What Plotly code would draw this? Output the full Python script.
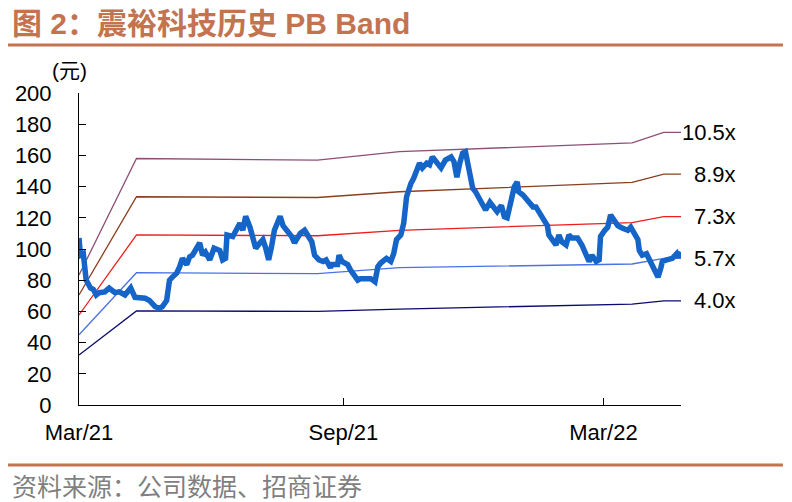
import plotly.graph_objects as go

# price (yuan)
price_dates = [
    '2021-03-18', '2021-03-19', '2021-03-21', '2021-03-23', '2021-03-26', '2021-03-28', '2021-03-30',
    '2021-04-01', '2021-04-05', '2021-04-08', '2021-04-12', '2021-04-15', '2021-04-19', '2021-04-23',
    '2021-04-26', '2021-04-29', '2021-05-03', '2021-05-06', '2021-05-10', '2021-05-13', '2021-05-15',
    '2021-05-18', '2021-05-20', '2021-05-22', '2021-05-25', '2021-05-27', '2021-05-29', '2021-06-01',
    '2021-06-03', '2021-06-05', '2021-06-07', '2021-06-10', '2021-06-12', '2021-06-14', '2021-06-17',
    '2021-06-20', '2021-06-24', '2021-06-26', '2021-06-28', '2021-06-29', '2021-07-03', '2021-07-05',
    '2021-07-08', '2021-07-10', '2021-07-12', '2021-07-15', '2021-07-17', '2021-07-19', '2021-07-22',
    '2021-07-24', '2021-07-26', '2021-07-28', '2021-07-30', '2021-08-01', '2021-08-03', '2021-08-05',
    '2021-08-07', '2021-08-10', '2021-08-13', '2021-08-15', '2021-08-17', '2021-08-19', '2021-08-22',
    '2021-08-24', '2021-08-27', '2021-08-29', '2021-09-01', '2021-09-04', '2021-09-06', '2021-09-09',
    '2021-09-10', '2021-09-14', '2021-09-15', '2021-09-17', '2021-09-21', '2021-09-23', '2021-09-26',
    '2021-09-28', '2021-09-30', '2021-10-04', '2021-10-07', '2021-10-10', '2021-10-12', '2021-10-14',
    '2021-10-18', '2021-10-21', '2021-10-23', '2021-10-25', '2021-10-28', '2021-10-30', '2021-11-01',
    '2021-11-04', '2021-11-06', '2021-11-10', '2021-11-12', '2021-11-15', '2021-11-17', '2021-11-19',
    '2021-11-22', '2021-11-25', '2021-11-28', '2021-11-30', '2021-12-02', '2021-12-04', '2021-12-06',
    '2021-12-08', '2021-12-10', '2021-12-12', '2021-12-15', '2021-12-17', '2021-12-19', '2021-12-22',
    '2021-12-24', '2021-12-26', '2021-12-29', '2021-12-31', '2022-01-03', '2022-01-06', '2022-01-08',
    '2022-01-10', '2022-01-13', '2022-01-15', '2022-01-17', '2022-01-18', '2022-01-21', '2022-01-23',
    '2022-01-26', '2022-01-28', '2022-01-30', '2022-02-01', '2022-02-03', '2022-02-07', '2022-02-08',
    '2022-02-10', '2022-02-13', '2022-02-15', '2022-02-17', '2022-02-20', '2022-02-22', '2022-02-24',
    '2022-02-28', '2022-03-03', '2022-03-05', '2022-03-07', '2022-03-08', '2022-03-10', '2022-03-13',
    '2022-03-15', '2022-03-16', '2022-03-19', '2022-03-21', '2022-03-23', '2022-03-26', '2022-03-28',
    '2022-03-31', '2022-04-04', '2022-04-06', '2022-04-09', '2022-04-11', '2022-04-12', '2022-04-14',
    '2022-04-17', '2022-04-19', '2022-04-21', '2022-04-24', '2022-04-25', '2022-04-27', '2022-04-28',
    '2022-05-01', '2022-05-03', '2022-05-05', '2022-05-08', '2022-05-09', '2022-05-11',
]
price = [
    107, 96, 97, 80, 75, 74, 70.5,
    72, 72.5, 75, 72, 72.5, 70.5, 75,
    69, 69, 68.5, 67, 63, 62, 63,
    67, 80, 82, 84.5, 88.5, 94, 90,
    95, 96, 99, 104, 96, 98, 93,
    100.5, 99, 93, 94, 109, 108, 111,
    116.5, 112, 121, 114, 107, 100.5, 104,
    106, 100.5, 93, 101.5, 112, 116.5, 121,
    115, 112, 108, 104, 108, 110, 112,
    109, 104.7, 96, 93, 92, 93, 88,
    90, 90, 96, 92, 90, 86.5, 83,
    80, 81, 81, 81, 79, 88.6, 91,
    94, 92, 97, 106, 109, 116.5, 133.5,
    142, 145.5, 155, 152, 155, 154, 159,
    155, 152, 157, 158, 159, 156, 146,
    155, 161.5, 162.4, 150.6, 139, 136.7, 132,
    128, 125, 130, 127, 124, 128, 120.7,
    120, 133.5, 140, 143, 136.7, 134.6, 132.5,
    129.5, 127, 127, 124, 120.7, 115, 109,
    106, 102.6, 109, 104.7, 102.6, 109, 107,
    107, 102.6, 98, 95, 92, 96, 92,
    93, 108, 112, 114, 121.8, 117.5, 115,
    113.5, 112, 114, 109, 106, 99, 96,
    97, 93, 90, 84.5, 82, 88, 92,
    93, 93.6, 94, 97, 95, 98,
]

# PB band lines (price implied by each multiple)
band_dates = ['2021-03-18', '2021-04-27', '2021-08-31', '2021-10-27', '2022-04-07', '2022-04-29', '2022-05-11']
band_105 = [83.3, 158, 157, 162.4, 168, 174.8, 174.8]
band_89 = [70.5, 133.5, 133, 136.7, 142.7, 148, 148]
band_73 = [57.7, 109, 108.5, 112, 116.9, 120.7, 120.7]
band_57 = [45, 84.8, 84.2, 88, 90.4, 94, 94]
band_40 = [32, 60.3, 60, 61.5, 64.7, 66.7, 66.7]

band_names = ['10.5x', '8.9x', '7.3x', '5.7x', '4.0x']
band_values = [band_105, band_89, band_73, band_57, band_40]
band_colors = ['#8e4f76', '#8b3e1e', '#ee1c1c', '#4a72e6', '#0a0a6e']

tick_dates = ['2021-03-18', '2021-09-18', '2022-03-18']
tick_text = ['Mar/21', 'Sep/21', 'Mar/22']

FONT = 'Arial, Liberation Sans, Noto Sans CJK SC'
ORANGE = '#c3734f'

fig = go.Figure()

for name, vals, col in zip(band_names, band_values, band_colors):
    fig.add_trace(go.Scatter(
        x=band_dates, y=vals, mode='lines', name=name,
        line=dict(color=col, width=1.3)
    ))
    # label at the right end of each band
    fig.add_annotation(
        x=1.095, xref='paper', y=vals[-1], yref='y',
        text=name, showarrow=False, xanchor='right', yanchor='middle',
        font=dict(size=22, color='black', family=FONT)
    )

fig.add_trace(go.Scatter(
    x=price_dates, y=price, mode='lines', name='price',
    line=dict(color='#1565c8', width=5.5)
))

# the page body has an 8px margin, so the figure is 8px smaller than the window
fig.update_layout(
    width=784, height=494,
    margin=dict(l=71, r=111, t=85, b=97),
    plot_bgcolor='white',
    paper_bgcolor='white',
    showlegend=False,
    font=dict(family=FONT, size=22, color='black'),
    xaxis=dict(
        type='date', range=['2021-03-18', '2022-05-11'],
        tickvals=tick_dates, ticktext=tick_text,
        showgrid=False, zeroline=False, automargin=False,
        showline=True, linecolor='black', linewidth=1,
        ticks='inside', ticklen=7, tickcolor='black',
        ticklabelstandoff=8,
        tickfont=dict(size=22, family=FONT)
    ),
    yaxis=dict(
        range=[0, 200], dtick=20,
        showgrid=False, zeroline=False, automargin=False,
        showline=True, linecolor='black', linewidth=1,
        ticks='inside', ticklen=7, tickcolor='black',
        ticklabelstandoff=22,
        tickfont=dict(size=22, family=FONT)
    ),
)

# title, rules, unit and source
fig.add_annotation(
    x=-0.1146, xref='paper', y=1.2212, yref='paper',
    text='<b>图 2：震裕科技历史 PB Band</b>', showarrow=False,
    xanchor='left', yanchor='middle',
    font=dict(size=30, color=ORANGE, family=FONT)
)
fig.add_shape(type='line', xref='paper', yref='paper',
              x0=-0.118, x1=1.1694, y0=1.1538, y1=1.1538,
              line=dict(color=ORANGE, width=3))
fig.add_shape(type='line', xref='paper', yref='paper',
              x0=-0.118, x1=1.1694, y0=-0.1923, y1=-0.1923,
              line=dict(color=ORANGE, width=3))
fig.add_annotation(
    x=-0.015, xref='paper', y=1.0737, yref='paper',
    text='(元)', showarrow=False, xanchor='center', yanchor='middle',
    font=dict(size=21, color='black', family=FONT)
)
fig.add_annotation(
    x=-0.1146, xref='paper', y=-0.2564, yref='paper',
    text='资料来源：公司数据、招商证券', showarrow=False,
    xanchor='left', yanchor='middle',
    font=dict(size=25, color='#7f7f7f', family='Noto Sans CJK SC')
)

fig.write_html("out.html")
